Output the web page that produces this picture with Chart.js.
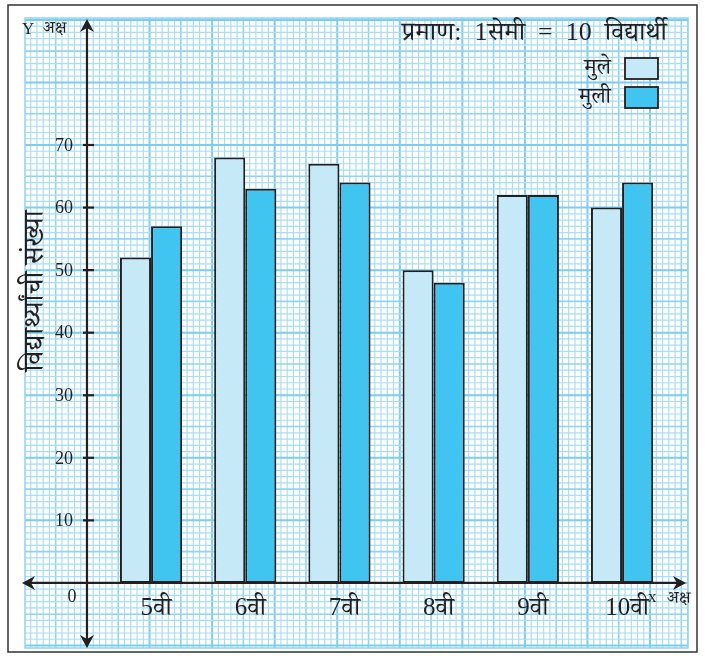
<!DOCTYPE html>
<html>
<head>
<meta charset="utf-8">
<script src="https://cdn.jsdelivr.net/npm/chart.js@4"></script>
<style>
  body { margin: 0; background: #fff; }
  canvas { display: block; }
</style>
</head>
<body>
<canvas id="chart1" width="705" height="659"></canvas>
<script>
const categories = ["5वी", "6वी", "7वी", "8वी", "9वी", "10वी"];
const boys = [52, 68, 67, 50, 62, 60];
const girls = [57, 63, 64, 48, 62, 64];
const yTicks = [10, 20, 30, 40, 50, 60, 70];
const seriesNames = ["मुले", "मुली"];
const titleText = "प्रमाण:  1सेमी  =  10  विद्यार्थी";
const yTitle = "विद्यार्थ्यांची संख्या";

const Y_AXIS_AT = 0.32;   // x value where the Y axis stands
const FONT = '"Liberation Serif", "Noto Serif Devanagari", "Noto Sans Devanagari", "Lohit Devanagari", FreeSerif, serif';
const INK = "#231f20";

function arrow(ctx, x, y, ang) {
  ctx.save();
  ctx.translate(x, y);
  ctx.rotate(ang);
  ctx.beginPath();
  ctx.moveTo(0, 0);
  ctx.lineTo(-13, -7);
  ctx.lineTo(-9, 0);
  ctx.lineTo(-13, 7);
  ctx.closePath();
  ctx.fillStyle = INK;
  ctx.fill();
  ctx.restore();
}

const paper = {
  id: "paper",
  beforeDraw(chart) {
    const ctx = chart.ctx;
    ctx.save();
    ctx.fillStyle = "#fff";
    ctx.fillRect(0, 0, chart.width, chart.height);
    ctx.strokeStyle = "#333";
    ctx.lineWidth = 1.5;
    ctx.strokeRect(8, 5, 689, 647);
    ctx.restore();
  },
  beforeDatasetsDraw(chart) {
    const ctx = chart.ctx;
    const { left, right, top, bottom } = chart.chartArea;
    const xs = chart.scales.x, ys = chart.scales.y;
    const ox = xs.getPixelForValue(Y_AXIS_AT);
    const oy = ys.getPixelForValue(0);
    const step = oy - ys.getPixelForValue(1);
    ctx.save();
    function style(k) {
      if (k % 10 === 0) { ctx.strokeStyle = "#7dcdef"; ctx.lineWidth = 2; }
      else if (k % 5 === 0) { ctx.strokeStyle = "#8fd4f1"; ctx.lineWidth = 1.6; }
      else { ctx.strokeStyle = "#a9def4"; ctx.lineWidth = 1.2; }
    }
    for (let k = Math.ceil((left - ox) / step); k <= Math.floor((right - ox) / step); k++) {
      const x = ox + k * step;
      style(k);
      ctx.beginPath(); ctx.moveTo(x, top); ctx.lineTo(x, bottom); ctx.stroke();
    }
    for (let k = Math.ceil((oy - bottom) / step); k <= Math.floor((oy - top) / step); k++) {
      const y = oy - k * step;
      style(k);
      ctx.beginPath(); ctx.moveTo(left, y); ctx.lineTo(right, y); ctx.stroke();
    }
    ctx.strokeStyle = "#8fd4f1";
    ctx.lineWidth = 1.5;
    ctx.strokeRect(left, top, right - left, bottom - top);
    ctx.restore();
  },
  afterDatasetsDraw(chart) {
    const ctx = chart.ctx;
    const { left, right, top, bottom } = chart.chartArea;
    const xs = chart.scales.x, ys = chart.scales.y;
    const ox = xs.getPixelForValue(Y_AXIS_AT);
    const oy = ys.getPixelForValue(0);
    ctx.save();
    // axes
    ctx.strokeStyle = INK;
    ctx.lineWidth = 2.2;
    ctx.beginPath();
    ctx.moveTo(left + 2, oy); ctx.lineTo(right - 6, oy);
    ctx.moveTo(ox, top + 6); ctx.lineTo(ox, bottom - 4);
    ctx.stroke();
    arrow(ctx, left - 3, oy, Math.PI);
    arrow(ctx, right - 2, oy, 0);
    arrow(ctx, ox, top + 1, -Math.PI / 2);
    arrow(ctx, ox, bottom, Math.PI / 2);

    // y ticks and labels
    ctx.fillStyle = INK;
    ctx.font = "18px " + FONT;
    ctx.textAlign = "right";
    ctx.textBaseline = "middle";
    yTicks.forEach(v => {
      const y = ys.getPixelForValue(v);
      ctx.beginPath(); ctx.moveTo(ox - 4, y); ctx.lineTo(ox + 7, y); ctx.stroke();
      ctx.fillText(String(v), ox - 14, y + 1);
    });
    ctx.textAlign = "center";
    ctx.fillText("0", ox - 15, oy + 14);

    // x labels
    ctx.font = "25px " + FONT;
    xs.ticks.forEach((t, i) => {
      ctx.fillText(categories[i], xs.getPixelForValue(t.value) + 5, oy + 26);
    });

    // axis names
    ctx.textAlign = "left";
    ctx.font = "17px " + FONT;
    ctx.fillText("Y", 22, 30);
    ctx.fillText("x", 648, 598);
    ctx.font = "17px " + FONT;
    ctx.fillText("अक्ष", 43, 29);
    ctx.fillText("अक्ष", 667, 599);

    // y title
    ctx.save();
    ctx.translate(36, 291);
    ctx.rotate(-Math.PI / 2);
    ctx.textAlign = "center";
    ctx.font = "28px " + FONT;
    ctx.fillText(yTitle, 0, 0);
    ctx.restore();

    // scale note
    ctx.textAlign = "right";
    ctx.font = "26px " + FONT;
    ctx.fillText(titleText, 667, 33);

    // legend
    chart.data.datasets.forEach((ds, i) => {
      const by = 58 + i * 29;
      ctx.fillStyle = ds.backgroundColor;
      ctx.fillRect(625, by, 33, 21);
      ctx.lineWidth = 1.8;
      ctx.strokeStyle = INK;
      ctx.strokeRect(625, by, 33, 21);
      ctx.fillStyle = INK;
      ctx.font = "22px " + FONT;
      ctx.fillText(ds.label, 611, by + 10);
    });
    ctx.restore();
  }
};

const ctx = document.getElementById("chart1").getContext("2d");
const chart = new Chart(ctx, {
  type: "bar",
  data: {
    datasets: [
      {
        label: seriesNames[0],
        data: boys.map((v, i) => ({ x: i + 1, y: v })),
        backgroundColor: "#c6e9f8",
        borderColor: INK,
        borderWidth: 2,
        borderSkipped: false
      },
      {
        label: seriesNames[1],
        data: girls.map((v, i) => ({ x: i + 1, y: v })),
        backgroundColor: "#40c5f0",
        borderColor: INK,
        borderWidth: 2,
        borderSkipped: false
      }
    ]
  },
  options: {
    responsive: false,
    animation: false,
    devicePixelRatio: 1,
    categoryPercentage: 0.66,
    barPercentage: 1,
    layout: { padding: { left: 25, right: 17, top: 18, bottom: 11 } },
    plugins: { legend: { display: false }, tooltip: { enabled: false } },
    scales: {
      x: {
        type: "linear", offset: false, min: -0.338, max: 6.70, display: false,
        afterBuildTicks: s => { s.ticks = categories.map((c, i) => ({ value: i + 1 })); }
      },
      y: { min: -10.4, max: 90.3, display: false }
    }
  },
  plugins: [paper]
});
</script>
</body>
</html>
